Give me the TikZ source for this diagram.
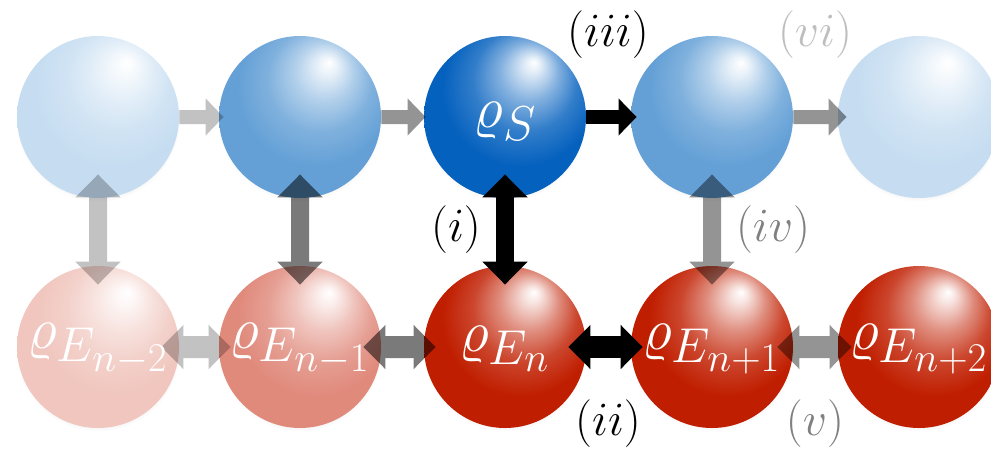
\documentclass[tikz,border=0pt]{standalone}
\usepackage{graphicx}
\usetikzlibrary{arrows.meta,shadows}
\colorlet{sphbase}{blue}
\pgfdeclareradialshading[sphbase]{sphere}{\pgfpoint{9bp}{17bp}}{color(0bp)=(white); color(2.5bp)=(white!88!sphbase); color(9bp)=(white!50!sphbase); color(16bp)=(white!18!sphbase); color(24bp)=(sphbase); color(50bp)=(sphbase)}
\definecolor{bDark}{RGB}{5,97,190}
\definecolor{bMid}{RGB}{100,160,214}
\definecolor{bLight}{RGB}{198,221,241}
\definecolor{rDark}{RGB}{192,30,0}
\definecolor{rMid}{RGB}{224,138,124}
\definecolor{rLight}{RGB}{240,198,190}
\definecolor{tagMid}{RGB}{128,128,128}
\definecolor{tagLight}{RGB}{190,190,190}
\newcommand{\sphtext}[1]{\scalebox{1.18}{$#1$}}
\newcommand{\tagtext}[1]{\scalebox{1.15}{$#1$}}
\tikzset{
  sphere color/.code={\colorlet{sphbase}{#1}},
  sph/.style={circle, minimum size=81pt, inner sep=0pt, draw=none,
    sphere color=#1, shading=sphere,
    circular drop shadow={shadow xshift=0pt, shadow yshift=-1.2pt, opacity=0.18, shadow scale=1.015}},
  lab/.style={font=\Huge, text=white, inner sep=0pt},
  tag/.style={font=\huge, inner sep=0pt},
  harr/.style={draw=black, line width=7pt, -{Triangle[width=18pt,length=9pt]}},
  varr/.style={draw=black, line width=9pt, {Triangle[width=22pt,length=11.5pt]}-{Triangle[width=22pt,length=11.5pt]}},
  barr/.style={draw=black, line width=11pt, {Triangle[width=21.5pt,length=11pt]}-{Triangle[width=21.5pt,length=11pt]}},
  faint/.style={transparency group, opacity=0.24},
  mid/.style={transparency group, opacity=0.42},
  strong/.style={transparency group, opacity=0.52}
}
\begin{document}
\begin{tikzpicture}[x=0.5pt, y=-0.5pt]
\useasboundingbox (0,0) rectangle (991,451);
% system row
\node[sph=bLight] (t1) at (98,117) {};
\node[sph=bMid]   (t2) at (300,117) {};
\node[sph=bDark]  (t3) at (505,117) {};
\node[sph=bMid]   (t4) at (712,117) {};
\node[sph=bLight] (t5) at (919,117) {};
% environment row
\node[sph=rLight] (b1) at (98,347) {};
\node[sph=rMid]   (b2) at (300,347) {};
\node[sph=rDark]  (b3) at (505,347) {};
\node[sph=rDark]  (b4) at (712,347) {};
\node[sph=rDark]  (b5) at (919,347) {};
% horizontal system arrows
\begin{scope}[faint]\draw[harr] (t1.east) -- ([xshift=2.5pt]t2.west);\end{scope}
\begin{scope}[mid]\draw[harr] (t2.east) -- ([xshift=1pt]t3.west);\end{scope}
\draw[harr] (t3.east) -- ([xshift=3pt]t4.west);
\begin{scope}[mid]\draw[harr] (t4.east) -- ([xshift=4.5pt]t5.west);\end{scope}
% vertical arrows
\begin{scope}[faint]\draw[varr] ([yshift=12pt]t1.south) -- ([yshift=-9.5pt]b1.north);\end{scope}
\begin{scope}[strong]\draw[varr] ([yshift=12pt]t2.south) -- ([yshift=-9.5pt]b2.north);\end{scope}
\draw[varr] ([yshift=12pt]t3.south) -- ([yshift=-9.5pt]b3.north);
\begin{scope}[mid]\draw[varr] ([yshift=12pt]t4.south) -- ([yshift=-9.5pt]b4.north);\end{scope}
% horizontal environment arrows
\begin{scope}[faint]\draw[barr] ([xshift=-9pt]b1.east) -- ([xshift=6pt]b2.west);\end{scope}
\begin{scope}[strong]\draw[barr] ([xshift=-9pt]b2.east) -- ([xshift=6pt]b3.west);\end{scope}
\draw[barr] ([xshift=-9pt]b3.east) -- ([xshift=6pt]b4.west);
\begin{scope}[mid]\draw[barr] ([xshift=-8pt]b4.east) -- ([xshift=7pt]b5.west);\end{scope}
% texts in spheres
\node[lab] (lS)  at ([yshift=-2pt]t3.center) {\sphtext{\varrho_S}};
\node[lab] (lE1) at ([yshift=-1pt]b1.center) {\sphtext{\varrho_{E_{n-2}}}};
\node[lab] (lE2) at ([yshift=-1pt]b2.center) {\sphtext{\varrho_{E_{n-1}}}};
\node[lab] (lE3) at ([yshift=-1pt]b3.center) {\sphtext{\varrho_{E_{n}}}};
\node[lab] (lE4) at ([yshift=-1pt]b4.center) {\sphtext{\varrho_{E_{n+1}}}};
\node[lab] (lE5) at ([yshift=-1pt]b5.center) {\sphtext{\varrho_{E_{n+2}}}};
% tags
\node[tag] (g3) at (608,35) {\tagtext{(iii)}};
\node[tag, text=tagLight] (g6) at (815,35) {\tagtext{(vi)}};
\node[tag] (g1) at (456,230) {\tagtext{(i)}};
\node[tag, text=tagMid] (g4) at (773,230) {\tagtext{(iv)}};
\node[tag] (g2) at (608,424) {\tagtext{(ii)}};
\node[tag, text=tagMid] (g5) at (815,424) {\tagtext{(v)}};
\end{tikzpicture}
\end{document}
